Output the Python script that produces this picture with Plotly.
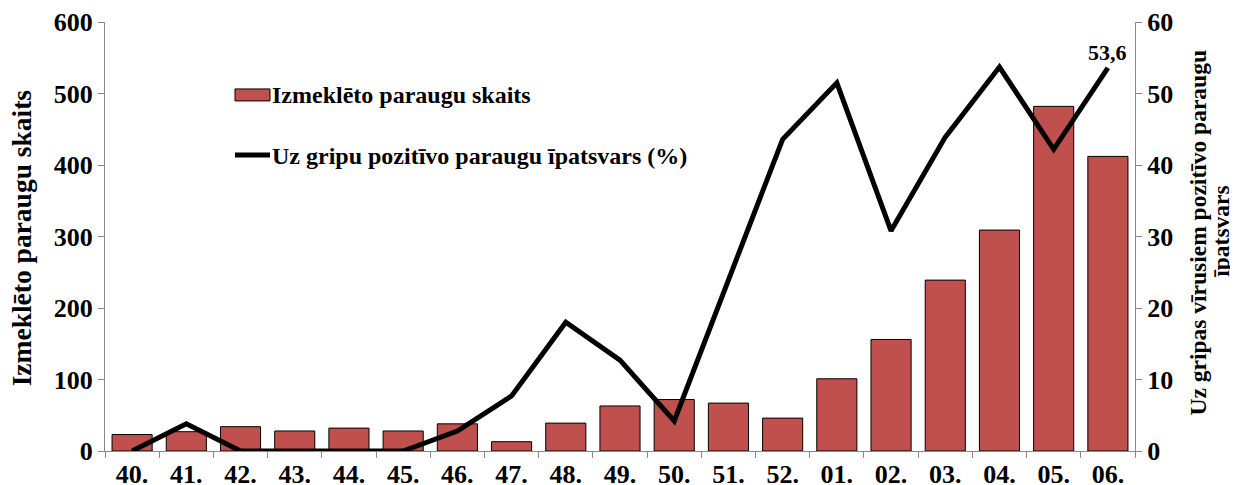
import plotly.graph_objects as go

weeks = ["40.", "41.", "42.", "43.", "44.", "45.", "46.", "47.", "48.", "49.",
         "50.", "51.", "52.", "01.", "02.", "03.", "04.", "05.", "06."]
samples = [23, 27, 34, 28, 32, 28, 38, 13, 39, 63, 72, 67, 46, 101, 156, 239, 309, 482, 412]
positive_share = [0, 3.8, 0, 0, 0, 0, 2.8, 7.7, 18.0, 12.7, 4.2, 24.0, 43.6, 51.5,
                  30.8, 43.9, 53.7, 42.2, 53.6]
last_label = "53,6"
bar_name = "Izmeklēto paraugu skaits"
line_name = "Uz gripu pozitīvo paraugu īpatsvars (%)"
right_title = ["Uz gripas vīrusiem pozitīvo paraugu", "īpatsvars"]

FONT = "Liberation Serif"
BAR_COLOR = "#C0504D"

fig = go.Figure()
fig.add_trace(go.Bar(
    x=weeks, y=samples, name=bar_name, showlegend=False,
    marker={"color": BAR_COLOR, "line": {"color": "black", "width": 1}},
))
fig.add_trace(go.Scatter(
    x=weeks, y=positive_share, yaxis="y2", mode="lines", name=line_name,
    showlegend=False, line={"color": "black", "width": 5},
))
# value label on the last point (category axis -> use the index)
fig.add_annotation(x=len(weeks) - 1, y=positive_share[-1], xref="x", yref="y2",
                   text=f"<b>{last_label}</b>", showarrow=False, yshift=15,
                   font={"family": FONT, "size": 22, "color": "black"})

# hand-made legend (wide rectangle swatch like the original)
legend_font = {"family": FONT, "size": 24, "color": "black"}
fig.add_shape(type="rect", xref="paper", yref="paper", x0=0.1262, x1=0.1602,
              y0=0.816, y1=0.844, fillcolor=BAR_COLOR, line={"color": "black", "width": 1})
fig.add_annotation(xref="paper", yref="paper", x=0.1602, y=0.830, xanchor="left",
                   yanchor="middle", text=f"<b>{bar_name}</b>", showarrow=False,
                   font=legend_font)
fig.add_shape(type="line", xref="paper", yref="paper", x0=0.1262, x1=0.1602,
              y0=0.690, y1=0.690, line={"color": "black", "width": 5})
fig.add_annotation(xref="paper", yref="paper", x=0.1602, y=0.688, xanchor="left",
                   yanchor="middle", text=f"<b>{line_name}</b>", showarrow=False,
                   font=legend_font)

# axis titles as rotated annotations (tight line spacing on the right one)
fig.add_annotation(xref="paper", yref="paper", x=-0.081, y=0.497, textangle=-90,
                   xanchor="center", yanchor="middle", showarrow=False,
                   text=f"<b>{bar_name}</b>",
                   font={"family": FONT, "size": 27.5, "color": "black"})
for i, line in enumerate(right_title):
    fig.add_annotation(xref="paper", yref="paper", x=1.0615 + 0.0225 * i, y=0.51,
                       textangle=-90, xanchor="center", yanchor="middle",
                       showarrow=False, text=f"<b>{line}</b>",
                       font={"family": FONT, "size": 23.5, "color": "black"})

axis_font = {"family": FONT, "size": 26, "color": "black"}
common = {"ticks": "outside", "ticklen": 6, "tickcolor": "#888", "showline": True,
          "linecolor": "#888", "showgrid": False, "zeroline": False,
          "tickfont": axis_font, "tickprefix": "<b>", "ticksuffix": "</b>",
          "automargin": False}
# page body has an 8px margin, so the figure is sized/positioned to compensate
fig.update_layout(
    width=1230, height=477,
    margin={"l": 97, "r": 103, "t": 14, "b": 34},
    plot_bgcolor="white", paper_bgcolor="white",
    bargap=0.26,
    font={"family": FONT, "color": "black"},
    showlegend=False,
    xaxis={"type": "category", "tickson": "boundaries", **common},
    yaxis={"range": [0, 600], "dtick": 100, **common},
    yaxis2={"range": [0, 60], "dtick": 10, "overlaying": "y", "side": "right", **common},
)

fig.write_html("out.html")
